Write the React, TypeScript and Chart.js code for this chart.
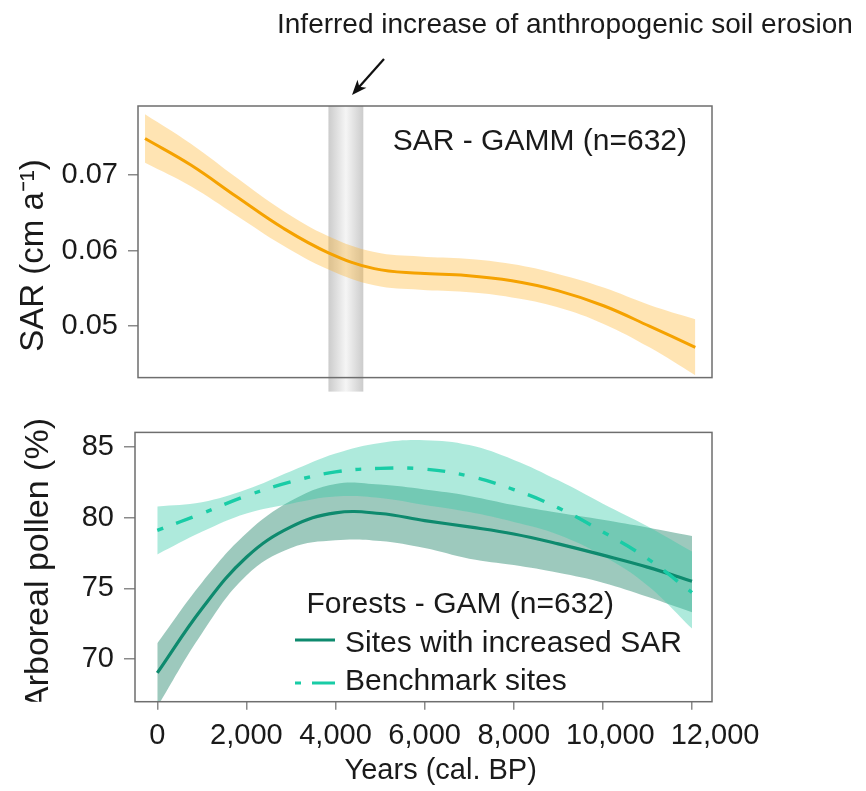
import React, { useEffect, useRef } from "react";
import { Chart, registerables } from "chart.js";

Chart.register(...registerables);

const FONT = "'Liberation Sans', Arial, Helvetica, sans-serif";

// ---- data ----
const years = [0, 1000, 2000, 3000, 4000, 5000, 6000, 7000, 8000, 9000, 10000, 11000, 12000];

const sarFit = [0.0748, 0.0713, 0.0671, 0.063, 0.0597, 0.0576, 0.057, 0.0567, 0.056, 0.0547, 0.0527, 0.05, 0.0472];
const sarUpper = [0.078, 0.0741, 0.0696, 0.0653, 0.0619, 0.0598, 0.0592, 0.0589, 0.0582, 0.0569, 0.0551, 0.0528, 0.0509];
const sarLower = [0.0716, 0.0685, 0.0646, 0.0607, 0.0575, 0.0554, 0.0548, 0.0545, 0.0538, 0.0525, 0.0503, 0.0472, 0.0435];
const sarTicks = [0.05, 0.06, 0.07];
const erosionPeriod = [4000, 4760];

const sitesFit = [69.0, 73.55, 77.2, 79.35, 80.35, 80.3, 79.8, 79.35, 78.85, 78.15, 77.35, 76.5, 75.5];
const sitesUpper = [71.1, 75.4, 78.9, 81.2, 82.4, 82.35, 82.0, 81.55, 80.9, 80.35, 79.85, 79.3, 78.7];
const sitesLower = [66.6, 71.8, 75.9, 77.85, 78.4, 78.35, 77.85, 77.1, 76.65, 76.1, 75.4, 74.4, 73.3];

const benchFit = [79.1, 80.3, 81.55, 82.55, 83.25, 83.5, 83.45, 82.95, 82.0, 80.7, 79.0, 77.1, 74.7];
const benchUpper = [80.8, 81.1, 82.0, 83.3, 84.55, 85.3, 85.5, 85.15, 84.1, 82.65, 81.0, 79.4, 77.6];
const benchLower = [77.4, 79.0, 80.3, 81.0, 81.5, 81.4, 80.9, 80.4, 79.7, 78.8, 77.3, 75.2, 72.15];

const pollenTicks = [70, 75, 80, 85];
const yearTicks = [0, 2000, 4000, 6000, 8000, 10000, 12000];

// ---- styles ----
const ORANGE = "#f5a200";
const ORANGE_BAND = "rgba(255,170,20,0.32)";
const DARK = "#0e8a6e";
const BENCH = "#19cca6";
const DARK_BAND = "rgba(10,120,90,0.4)";
const LIGHT_BAND = "rgba(52,202,167,0.4)";
const TEXT = "#1a1a1a";
const TICK = "#8a8a8a";
const BORDER = "#6e6e6e";
const BENCH_DASH = [6, 14, 18, 14];
const TENSION = 0.4;

const pts = (ys: number[]) => years.map((x, i) => ({ x, y: ys[i] }));

const topDecor = {
  id: "topDecor",
  beforeDatasetsDraw(chart: any) {
    const { ctx, chartArea: a, scales } = chart;
    const x1 = scales.x.getPixelForValue(erosionPeriod[0]);
    const x2 = scales.x.getPixelForValue(erosionPeriod[1]);
    const g = ctx.createLinearGradient(x1, 0, x2, 0);
    g.addColorStop(0, "rgba(198,198,198,0.9)");
    g.addColorStop(0.5, "rgba(244,244,244,0.9)");
    g.addColorStop(1, "rgba(198,198,198,0.9)");
    ctx.save();
    ctx.fillStyle = g;
    ctx.fillRect(x1, a.top, x2 - x1, a.bottom - a.top + 14);
    ctx.restore();
  },
  afterDraw(chart: any) {
    const { ctx, chartArea: a } = chart;
    ctx.save();
    ctx.strokeStyle = BORDER;
    ctx.lineWidth = 1.5;
    ctx.strokeRect(a.left, a.top, a.right - a.left, a.bottom - a.top);

    ctx.fillStyle = TEXT;
    ctx.font = `30px ${FONT}`;
    ctx.textAlign = "right";
    ctx.textBaseline = "alphabetic";
    ctx.fillText("SAR - GAMM (n=632)", a.right - 25, a.top + 43.5);

    // annotation
    ctx.font = `28px ${FONT}`;
    ctx.textAlign = "left";
    ctx.fillText("Inferred increase of anthropogenic soil erosion", 277, 33);

    // arrow
    const sx = 384, sy = 59, tx = 352, ty = 95;
    const ang = Math.atan2(ty - sy, tx - sx);
    ctx.strokeStyle = "#111";
    ctx.fillStyle = "#111";
    ctx.lineWidth = 2.2;
    ctx.beginPath();
    ctx.moveTo(sx, sy);
    ctx.lineTo(tx - 10 * Math.cos(ang), ty - 10 * Math.sin(ang));
    ctx.stroke();
    ctx.beginPath();
    ctx.moveTo(tx, ty);
    ctx.lineTo(tx - 15 * Math.cos(ang) + 6 * Math.sin(ang), ty - 15 * Math.sin(ang) - 6 * Math.cos(ang));
    ctx.lineTo(tx - 11 * Math.cos(ang), ty - 11 * Math.sin(ang));
    ctx.lineTo(tx - 15 * Math.cos(ang) - 6 * Math.sin(ang), ty - 15 * Math.sin(ang) + 6 * Math.cos(ang));
    ctx.closePath();
    ctx.fill();

    // y title
    ctx.fillStyle = TEXT;
    ctx.font = `33px ${FONT}`;
    ctx.translate(42.5, 255.5);
    ctx.rotate(-Math.PI / 2);
    ctx.textAlign = "center";
    ctx.textBaseline = "alphabetic";
    ctx.fillText("SAR (cm a\u207B\u00B9)", 0, 0);
    ctx.restore();
  },
};

const bottomDecor = {
  id: "bottomDecor",
  afterDraw(chart: any) {
    const { ctx, chartArea: a, scales } = chart;
    const off = 405;
    ctx.save();
    ctx.strokeStyle = BORDER;
    ctx.lineWidth = 1.5;
    ctx.strokeRect(a.left, a.top, a.right - a.left, a.bottom - a.top);

    // x tick labels (kept apart when they would touch)
    ctx.fillStyle = TEXT;
    ctx.font = `29px ${FONT}`;
    ctx.textAlign = "center";
    ctx.textBaseline = "alphabetic";
    let prevRight = -Infinity;
    yearTicks.forEach((v) => {
      const label = v.toLocaleString("en-US");
      const w = ctx.measureText(label).width;
      let cx = scales.x.getPixelForValue(v);
      if (cx - w / 2 < prevRight + 16) cx = prevRight + 16 + w / 2;
      ctx.fillText(label, cx, 744 - off);
      prevRight = cx + w / 2;
    });

    // legend
    ctx.font = `30px ${FONT}`;
    ctx.textAlign = "left";
    ctx.fillText("Forests - GAM (n=632)", 306.5, 613.3 - off);
    ctx.fillText("Sites with increased SAR", 345, 651.7 - off);
    ctx.fillText("Benchmark sites", 345, 690 - off);

    ctx.lineWidth = 3.2;
    ctx.strokeStyle = DARK;
    ctx.beginPath();
    ctx.moveTo(295, 640 - off);
    ctx.lineTo(335, 640 - off);
    ctx.stroke();
    ctx.strokeStyle = BENCH;
    ctx.beginPath();
    ctx.moveTo(295, 683 - off);
    ctx.lineTo(301, 683 - off);
    ctx.moveTo(312, 683 - off);
    ctx.lineTo(335, 683 - off);
    ctx.stroke();

    // x title
    ctx.font = `29px ${FONT}`;
    ctx.textAlign = "center";
    ctx.fillText("Years (cal. BP)", 440.7, 779 - off);

    // y title (clipped at panel bottom)
    ctx.beginPath();
    ctx.rect(0, 0, a.left, a.bottom);
    ctx.clip();
    ctx.font = `34px ${FONT}`;
    ctx.translate(48, 418 - off);
    ctx.rotate(-Math.PI / 2);
    ctx.textAlign = "right";
    ctx.fillText("Arboreal pollen (%)", 0, 0);
    ctx.restore();
  },
};

const bandLine = (ys: number[], fill: any, color: string, order: number) => ({
  data: pts(ys),
  fill,
  backgroundColor: color,
  borderColor: "rgba(0,0,0,0)",
  borderWidth: 0,
  pointRadius: 0,
  tension: TENSION,
  order,
});

export default function App() {
  const topRef = useRef<HTMLCanvasElement>(null);
  const botRef = useRef<HTMLCanvasElement>(null);

  useEffect(() => {
    const tickFont = { family: FONT, size: 29 };
    const top = new Chart(topRef.current as HTMLCanvasElement, {
      type: "line",
      data: {
        datasets: [
          {
            data: pts(sarFit),
            borderColor: ORANGE,
            borderWidth: 3,
            pointRadius: 0,
            fill: false,
            tension: TENSION,
            order: 1,
          } as any,
          bandLine(sarUpper, "+1", ORANGE_BAND, 2),
          bandLine(sarLower, false, "rgba(0,0,0,0)", 3),
        ],
      },
      options: {
        animation: false,
        responsive: false,
        maintainAspectRatio: false,
        layout: { padding: { left: 0, right: 866 - 712, top: 106, bottom: 405 - 386 } },
        plugins: { legend: { display: false }, tooltip: { enabled: false } },
        scales: {
          x: { type: "linear", min: -153, max: 12364, display: false },
          y: {
            type: "linear",
            min: 0.0432,
            max: 0.0791,
            afterFit: (s: any) => {
              s.width = 138;
            },
            afterBuildTicks: (s: any) => {
              s.ticks = sarTicks.map((v) => ({ value: v }));
            },
            ticks: {
              font: tickFont,
              color: TEXT,
              padding: 10,
              callback: (v: any) => Number(v).toFixed(2),
            },
            grid: { drawOnChartArea: false, drawTicks: true, tickLength: 10, color: TICK, lineWidth: 1.5 },
            border: { display: false },
          },
        },
      } as any,
      plugins: [topDecor],
    });

    const bot = new Chart(botRef.current as HTMLCanvasElement, {
      type: "line",
      data: {
        datasets: [
          {
            data: pts(sitesFit),
            borderColor: DARK,
            borderWidth: 3.2,
            pointRadius: 0,
            fill: false,
            tension: TENSION,
            order: 1,
          } as any,
          {
            data: pts(benchFit),
            borderColor: BENCH,
            borderWidth: 3.4,
            borderDash: BENCH_DASH,
            pointRadius: 0,
            fill: false,
            tension: TENSION,
            order: 0,
          } as any,
          bandLine(benchUpper, "+1", LIGHT_BAND, 3),
          bandLine(benchLower, false, "rgba(0,0,0,0)", 4),
          bandLine(sitesUpper, "+1", DARK_BAND, 5),
          bandLine(sitesLower, false, "rgba(0,0,0,0)", 6),
        ],
      },
      options: {
        animation: false,
        responsive: false,
        maintainAspectRatio: false,
        layout: { padding: { left: 0, right: 866 - 712, top: 429.3 - 405, bottom: 0 } },
        plugins: { legend: { display: false }, tooltip: { enabled: false } },
        scales: {
          x: {
            type: "linear",
            min: -500,
            max: 12449,
            afterFit: (s: any) => {
              s.height = 386 - (701.7 - 405);
            },
            afterBuildTicks: (s: any) => {
              s.ticks = yearTicks.map((v) => ({ value: v }));
            },
            ticks: { display: false, font: tickFont },
            grid: { drawOnChartArea: false, drawTicks: true, tickLength: 8, color: TICK, lineWidth: 1.5 },
            border: { display: false },
          },
          y: {
            type: "linear",
            min: 66.96,
            max: 86.05,
            afterFit: (s: any) => {
              s.width = 135;
            },
            afterBuildTicks: (s: any) => {
              s.ticks = pollenTicks.map((v) => ({ value: v }));
            },
            ticks: { font: tickFont, color: TEXT, padding: 10 },
            grid: { drawOnChartArea: false, drawTicks: true, tickLength: 11, color: TICK, lineWidth: 1.5 },
            border: { display: false },
          },
        },
      } as any,
      plugins: [bottomDecor],
    });

    return () => {
      top.destroy();
      bot.destroy();
    };
  }, []);

  return (
    <div style={{ position: "absolute", left: 0, top: 0, width: 866, height: 791, background: "#fff", overflow: "hidden" }}>
      <canvas ref={topRef} width={866} height={405} style={{ position: "absolute", left: 0, top: 0, display: "block" }} />
      <canvas ref={botRef} width={866} height={386} style={{ position: "absolute", left: 0, top: 405, display: "block" }} />
    </div>
  );
}
